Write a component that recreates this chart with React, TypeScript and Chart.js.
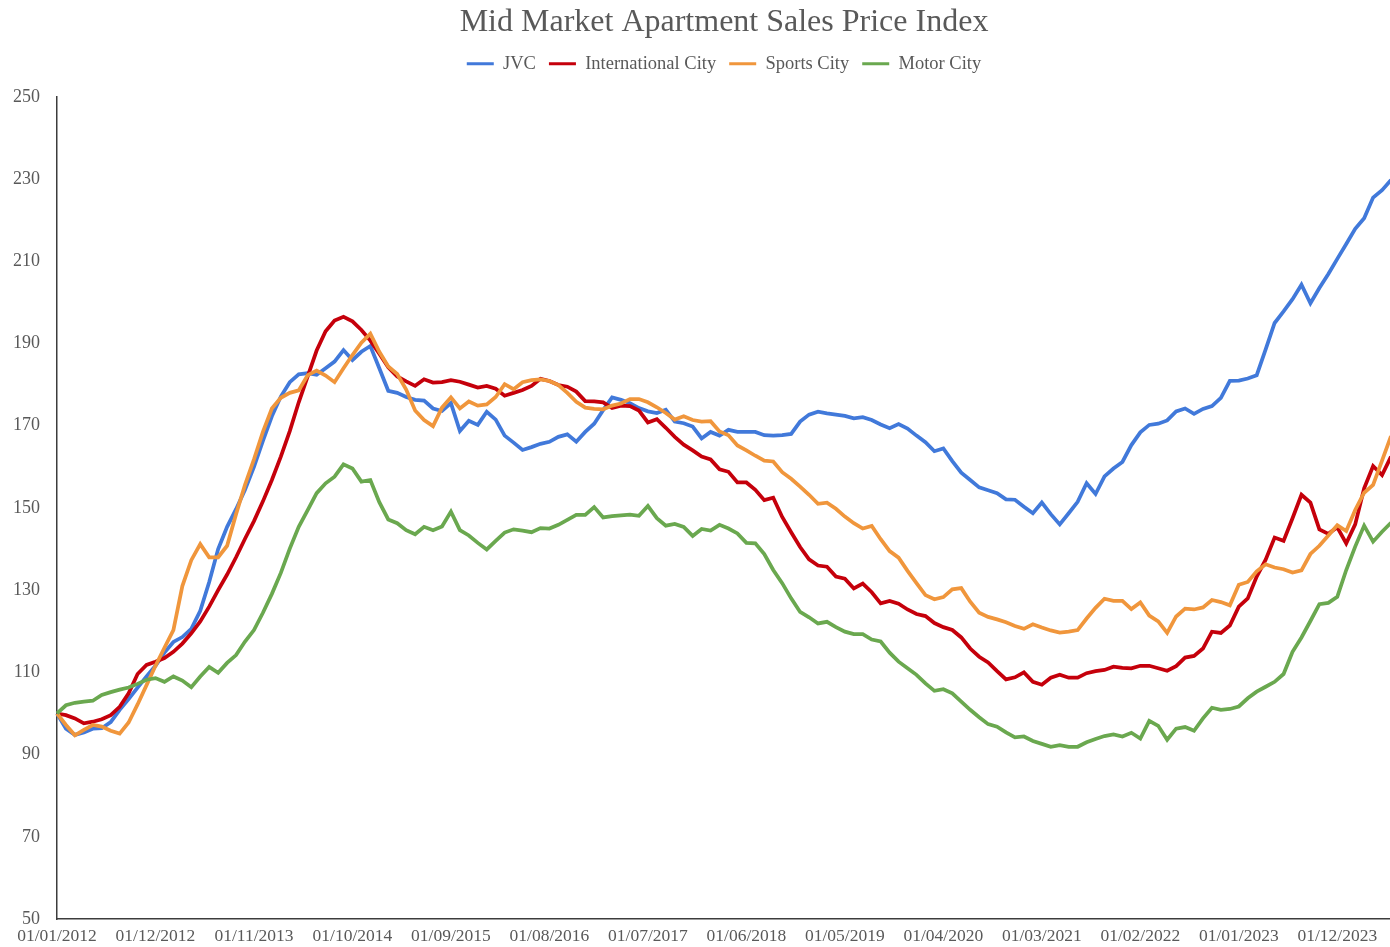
import React, { useEffect, useRef } from 'react';
import { Chart, registerables } from 'chart.js';

Chart.register(...registerables);

// ---- Data ----
const START_YEAR = 2012;
const MONTH_COUNT = 150;
const TICK_STEP = 11;

const categories: string[] = Array.from({ length: MONTH_COUNT }, (_, i) => {
  const y = START_YEAR + Math.floor(i / 12);
  const m = (i % 12) + 1;
  return `01/${String(m).padStart(2, '0')}/${y}`;
});

const seriesNames = ['JVC', 'International City', 'Sports City', 'Motor City'];

const jvc = [
  100, 96.3, 94.8, 95.4, 96.3, 96.4, 97.9, 100.9, 103.5, 106.3,
  109, 111.6, 114.8, 117.4, 118.6, 120.6, 125, 132, 140, 145.4,
  149.7, 154.4, 160, 166.3, 172.3, 177.1, 180.6, 182.5, 182.8, 182.4,
  184, 185.6, 188.4, 186, 188, 189.4, 184, 178.5, 178, 177,
  176.3, 176.1, 174.2, 173.6, 175.5, 168.7, 171.2, 170.2, 173.4, 171.5,
  167.6, 165.9, 164.1, 164.8, 165.6, 166.1, 167.3, 167.9, 166.1, 168.5,
  170.5, 173.8, 176.9, 176.3, 175.5, 174.3, 173.5, 173.1, 173.9, 171,
  170.6, 169.8, 166.9, 168.5, 167.6, 169, 168.5, 168.5, 168.5, 167.7,
  167.6, 167.7, 168, 171, 172.7, 173.4, 173, 172.7, 172.4, 171.8,
  172.1, 171.4, 170.3, 169.4, 170.4, 169.3, 167.6, 166, 163.8, 164.5,
  161.4, 158.6, 156.8, 155, 154.3, 153.6, 152.1, 152, 150.3, 148.7,
  151.3, 148.5, 146, 148.7, 151.5, 156, 153.4, 157.7, 159.6, 161.2,
  165.3, 168.4, 170.2, 170.5, 171.3, 173.5, 174.2, 172.9, 174.1, 174.8,
  176.8, 180.9, 181, 181.5, 182.3, 188.6, 195, 197.8, 200.8, 204.3,
  199.8, 203.5, 206.9, 210.6, 214.2, 217.9, 220.5, 225.5, 227.3, 229.8,
];

const internationalCity = [
  100, 99.6, 98.8, 97.6, 98, 98.6, 99.6, 101.6, 104.9, 109.6,
  111.8, 112.6, 113.5, 115, 117, 119.5, 122.4, 126, 130, 133.8,
  138, 142.5, 146.8, 151.6, 156.8, 162.5, 168.7, 175.7, 182, 188.3,
  193, 195.6, 196.5, 195.4, 193.3, 190.7, 187.5, 184.2, 182, 180.8,
  179.7, 181.3, 180.5, 180.6, 181.1, 180.7, 180, 179.3, 179.7, 179,
  177.3, 178, 178.7, 179.7, 181.4, 180.9, 179.9, 179.5, 178.3, 176,
  175.9, 175.7, 174.3, 174.9, 174.8, 173.7, 170.8, 171.6, 169.5, 167.3,
  165.4, 164, 162.5, 161.8, 159.4, 158.8, 156.2, 156.2, 154.4, 151.9,
  152.5, 147.8, 144.1, 140.5, 137.5, 136, 135.7, 133.3, 132.8, 130.4,
  131.6, 129.5, 126.8, 127.4, 126.7, 125.3, 124.2, 123.7, 122, 121,
  120.3, 118.5, 115.8, 113.8, 112.4, 110.3, 108.3, 108.8, 110, 107.7,
  107, 108.7, 109.4, 108.7, 108.7, 109.8, 110.3, 110.6, 111.4, 111.1,
  111, 111.6, 111.6, 111, 110.4, 111.5, 113.6, 114, 115.8, 119.9,
  119.6, 121.4, 126, 128, 133.3, 137.4, 142.8, 142, 147.5, 153.2,
  151.3, 144.8, 143.7, 145.3, 141.4, 146, 154.8, 160.2, 158, 162.5,
];

const sportsCity = [
  100, 97.2, 94.7, 96, 97.2, 96.8, 95.8, 95.1, 97.8, 102.2,
  106.9, 111.6, 116, 120.3, 131, 137.3, 141.2, 138, 138, 140.8,
  148.5, 155.6, 161.8, 168.5, 174.2, 176.8, 178, 178.6, 182.3, 183.4,
  182.2, 180.6, 184, 187.2, 190.2, 192.4, 188, 184.4, 182.6, 178.8,
  173.7, 171.4, 169.9, 174.4, 176.9, 174.2, 175.9, 174.9, 175.2, 177,
  180.1, 178.9, 180.6, 181.1, 181.3, 180.9, 179.9, 178, 175.8, 174.4,
  174.1, 174, 174.9, 175.4, 176.5, 176.5, 175.7, 174.5, 173.1, 171.5,
  172.3, 171.4, 171, 171.1, 168.6, 167.7, 165.2, 164, 162.7, 161.5,
  161.3, 158.7, 157.1, 155.2, 153.2, 151, 151.3, 149.8, 147.9, 146.3,
  145, 145.6, 142.4, 139.5, 137.9, 134.7, 131.7, 128.8, 127.8, 128.3,
  130.2, 130.5, 127.2, 124.5, 123.5, 122.9, 122.2, 121.3, 120.6, 121.7,
  120.9, 120.2, 119.7, 119.9, 120.3, 123.1, 125.7, 127.9, 127.4, 127.4,
  125.4, 127, 123.8, 122.4, 119.6, 123.6, 125.5, 125.3, 125.8, 127.6,
  127.1, 126.3, 131.3, 132, 134.6, 136.3, 135.5, 135.1, 134.3, 134.8,
  138.8, 140.8, 143.3, 145.8, 144.4, 149.5, 153.7, 155.6, 161.5, 167.5,
];

const motorCity = [
  100, 102, 102.6, 102.9, 103.1, 104.5, 105.2, 105.8, 106.3, 107.2,
  108.2, 108.6, 107.7, 109, 108, 106.4, 109, 111.3, 109.9, 112.3,
  114.2, 117.5, 120.3, 124.5, 129.1, 134.2, 140.1, 145.4, 149.5, 153.6,
  156, 157.6, 160.6, 159.6, 156.4, 156.8, 151.4, 147.2, 146.3, 144.6,
  143.6, 145.4, 144.6, 145.5, 149.1, 144.6, 143.3, 141.5, 139.9, 142,
  144, 144.8, 144.5, 144.1, 145.1, 145, 145.9, 147.1, 148.3, 148.3,
  150.2, 147.7, 148, 148.2, 148.4, 148.1, 150.5, 147.5, 145.7, 146.1,
  145.4, 143.2, 144.9, 144.5, 145.9, 145, 143.8, 141.5, 141.4, 138.8,
  134.9, 131.7, 128, 124.7, 123.4, 121.9, 122.3, 121, 119.9, 119.3,
  119.3, 118, 117.5, 114.8, 112.6, 111, 109.4, 107.3, 105.5, 105.9,
  104.9, 102.9, 100.9, 99.1, 97.4, 96.8, 95.4, 94.2, 94.4, 93.3,
  92.6, 91.9, 92.3, 91.9, 91.9, 93, 93.8, 94.5, 94.9, 94.4,
  95.3, 93.9, 98.2, 97, 93.6, 96.3, 96.7, 95.8, 98.8, 101.4,
  100.9, 101.1, 101.7, 103.7, 105.3, 106.5, 107.7, 109.6, 115, 118.5,
  122.5, 126.6, 126.9, 128.4, 134.9, 140.6, 145.7, 141.8, 144.2, 146.4,
];

const seriesValues = [jvc, internationalCity, sportsCity, motorCity];
const seriesColors = ['#4179DA', '#C5000B', '#F0963C', '#6AA84F'];

const Y_MIN = 50;
const Y_MAX = 250;
const Y_STEP = 20;

const FONT = "'Liberation Serif', 'Times New Roman', serif";
const TEXT_COLOR = '#595959';
const AXIS_COLOR = '#3c3c3c';
const LEGEND_GAP = 14;

const legendSpacer = {
  id: 'legendSpacer',
  beforeLayout(chart: any) {
    const lg = chart.legend;
    if (lg && !lg.__patched) {
      const orig = lg.fit;
      lg.fit = function () {
        orig.call(this);
        this.height += LEGEND_GAP;
      };
      lg.__patched = true;
    }
  },
};

export default function App() {
  const canvasRef = useRef<HTMLCanvasElement | null>(null);

  useEffect(() => {
    if (!canvasRef.current) return;
    const chart = new Chart(canvasRef.current, {
      type: 'line',
      data: {
        labels: categories,
        datasets: seriesNames.map((name, i) => ({
          label: name,
          data: seriesValues[i],
          borderColor: seriesColors[i],
          backgroundColor: seriesColors[i],
          borderWidth: 3.75,
          pointRadius: 0,
          pointHoverRadius: 0,
          tension: 0,
          fill: false,
          order: seriesNames.length - 1 - i,
        })),
      },
      options: {
        animation: false,
        responsive: true,
        maintainAspectRatio: false,
        layout: { padding: { left: 0, right: 57, top: 0, bottom: 1 } },
        plugins: {
          title: {
            display: true,
            fullSize: false,
            text: 'Mid Market Apartment Sales Price Index',
            color: TEXT_COLOR,
            font: { family: FONT, size: 32, weight: 'normal' },
            padding: { top: 3, bottom: 0 },
          },
          legend: {
            display: true,
            fullSize: false,
            position: 'top',
            labels: {
              color: TEXT_COLOR,
              font: { family: FONT, size: 18.5 },
              boxWidth: 27,
              boxHeight: 3,
              padding: 13,
              generateLabels: (c: any) =>
                c.data.datasets.map((ds: any, i: number) => ({
                  text: ds.label,
                  fillStyle: ds.borderColor,
                  strokeStyle: ds.borderColor,
                  lineWidth: 0,
                  hidden: false,
                  datasetIndex: i,
                  fontColor: TEXT_COLOR,
                })),
            },
          },
          tooltip: { enabled: false },
        },
        scales: {
          x: {
            type: 'category',
            offset: false,
            grid: { display: false, drawTicks: false },
            border: { display: true, color: AXIS_COLOR, width: 1.5 },
            ticks: {
              autoSkip: false,
              maxRotation: 0,
              minRotation: 0,
              padding: 7,
              color: TEXT_COLOR,
              font: { family: FONT, size: 17.5 },
              callback: (_v: any, index: number) =>
                index % TICK_STEP === 0 ? categories[index] : '',
            },
          },
          y: {
            min: Y_MIN,
            max: Y_MAX,
            grid: { display: false, drawTicks: false },
            border: { display: true, color: AXIS_COLOR, width: 1.5 },
            ticks: {
              stepSize: Y_STEP,
              padding: 17,
              color: TEXT_COLOR,
              font: { family: FONT, size: 18 },
            },
          },
        },
      },
      plugins: [legendSpacer],
    } as any);
    return () => chart.destroy();
  }, []);

  return (
    <div
      style={{
        position: 'fixed',
        left: 0,
        top: 0,
        width: 1390,
        height: 947,
        overflow: 'hidden',
        background: '#ffffff',
      }}
    >
      <div style={{ position: 'absolute', left: -4, top: 0, width: 1452, height: 955 }}>
        <canvas ref={canvasRef} />
      </div>
    </div>
  );
}
